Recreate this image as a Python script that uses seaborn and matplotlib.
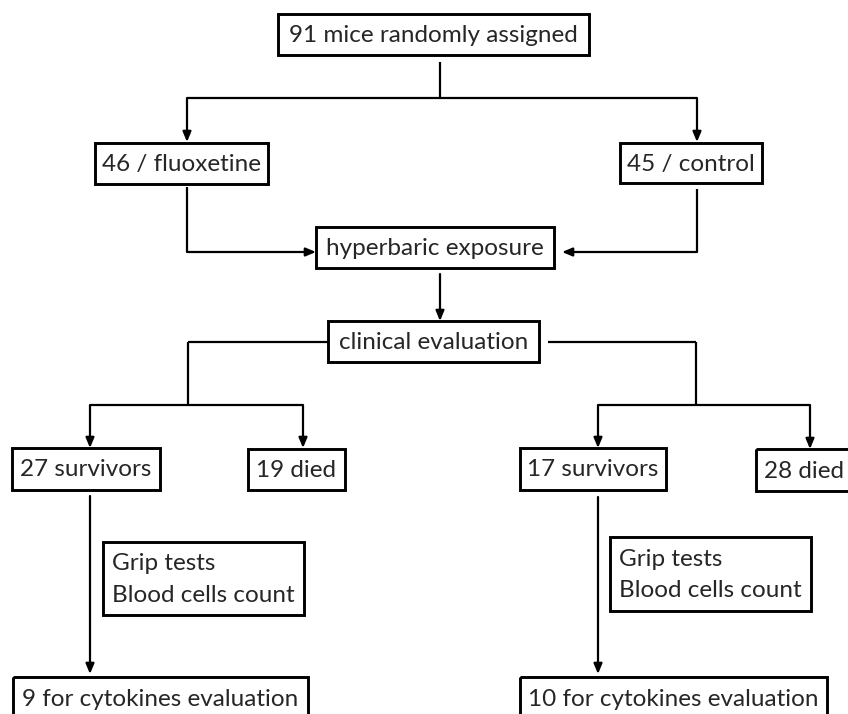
import seaborn as sns
from matplotlib import pyplot as plt
from matplotlib.patches import Rectangle

# counts in the flow
total = 91
groups = ['fluoxetine', 'control']
group_n = [46, 45]
survivors = [27, 17]
died = [19, 28]
cytokines = [9, 10]
steps = ['hyperbaric exposure', 'clinical evaluation']
tests = ['Grip tests', 'Blood cells count']

sns.set_style('white')
plt.rcParams['font.family'] = ['Lato', 'DejaVu Sans']

fig = plt.figure(figsize=(8.48, 7.14), dpi=100)
ax = fig.add_axes([0, 0, 1, 1])
ax.set_xlim(0, 848)
ax.set_ylim(714, 0)
ax.axis('off')

FS = 17.5
LW = 1.6


def box(x0, x1, y0, y1, text, align='center'):
    ax.add_patch(Rectangle((x0, y0), x1 - x0, y1 - y0, fill=False, lw=2.1, ec='black'))
    if align == 'center':
        ax.text((x0 + x1) / 2, (y0 + y1) / 2 + 1, text, ha='center', va='center', fontsize=FS)
    else:
        ax.text(x0 + 9, (y0 + y1) / 2 + 1, text, ha='left', va='center', fontsize=FS, linespacing=1.6)


def line(xs, ys):
    ax.plot(xs, ys, color='black', lw=LW, solid_capstyle='butt')


def arrow(x0, y0, x1, y1):
    ax.annotate('', xy=(x1, y1), xytext=(x0, y0),
                arrowprops=dict(arrowstyle='-|>,head_length=0.6,head_width=0.25',
                                color='black', lw=LW, shrinkA=0, shrinkB=0))


# boxes
box(278, 589, 14, 55, f'{total} mice randomly assigned')
box(95, 268, 143, 184, f'{group_n[0]} / {groups[0]}')
box(620, 762, 143, 183, f'{group_n[1]} / {groups[1]}')
box(316, 554, 227, 268, steps[0])
box(328, 539, 321, 362, steps[1])
box(12, 160, 448, 490, f'{survivors[0]} survivors')
box(248, 345, 449, 490, f'{died[0]} died')
box(520, 666, 448, 490, f'{survivors[1]} survivors')
box(756, 852, 449, 491, f'{died[1]} died')
box(103, 304, 542, 615, '\n'.join(tests), align='left')
box(610, 811, 537, 611, '\n'.join(tests), align='left')
box(13, 308, 677, 720, f'{cytokines[0]} for cytokines evaluation')
box(520, 827, 677, 720, f'{cytokines[1]} for cytokines evaluation')

# connectors
line([440, 440], [62, 98])
line([187, 697], [98, 98])
arrow(187, 98, 187, 142)
arrow(697, 98, 697, 142)
line([187, 187], [187, 252])
arrow(187, 252, 316, 252)
line([697, 697], [189, 252])
arrow(697, 252, 562, 252)
arrow(440, 274, 440, 321)
line([188, 328], [342, 342])
line([188, 188], [342, 405])
line([548, 696], [342, 342])
line([696, 696], [342, 405])
line([90, 303], [405, 405])
arrow(90, 405, 90, 448)
arrow(303, 405, 303, 448)
line([598, 810], [405, 405])
arrow(598, 405, 598, 448)
arrow(810, 405, 810, 449)
arrow(90, 496, 90, 674)
arrow(598, 497, 598, 674)

plt.savefig('out.png', dpi=100)
